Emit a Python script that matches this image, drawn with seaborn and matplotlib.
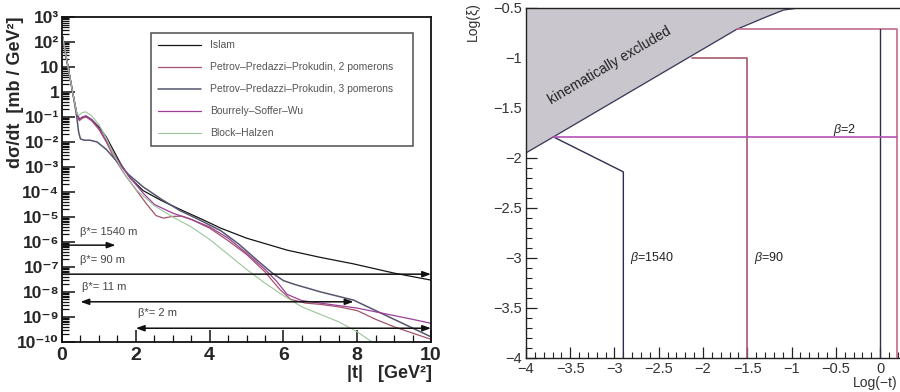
import numpy as np
import matplotlib
matplotlib.use("Agg")
import matplotlib.pyplot as plt
from matplotlib.ticker import FixedLocator, MultipleLocator, LogLocator, NullFormatter
import seaborn as sns

# ---- left panel: d(sigma)/dt model curves, log10 of mb/GeV^2 ----
islam_t = [0.02, 0.1, 0.2, 0.3, 0.4, 0.48, 0.55, 0.65, 0.8, 1.0, 1.2, 1.4, 1.6, 1.85,
           2.2, 2.7, 3.2, 3.8, 4.3, 5.0, 6.1, 7.0, 7.9, 9.0, 10.0]
islam_lg = [2.2, 1.5, 0.7, -0.1, -0.85, -1.1, -1.02, -0.98, -1.1, -1.4, -1.8, -2.35, -2.9, -3.45,
            -3.95, -4.35, -4.7, -5.1, -5.45, -5.85, -6.33, -6.62, -6.88, -7.25, -7.53]

ppp2_t = [0.02, 0.1, 0.2, 0.3, 0.4, 0.47, 0.55, 0.65, 0.8, 1.0, 1.2, 1.4, 1.7, 2.0, 2.3, 2.55,
          2.75, 3.0, 3.25, 3.5, 4.0, 4.5, 5.0, 5.5, 5.9, 6.2, 6.6, 7.0, 7.5, 8.0, 8.5, 9.0, 9.5, 10.0]
ppp2_lg = [2.2, 1.5, 0.7, -0.1, -0.85, -1.15, -1.05, -1.0, -1.15, -1.5, -2.0, -2.6, -3.3, -3.9, -4.5, -4.95,
           -5.05, -4.98, -4.97, -5.1, -5.45, -5.95, -6.5, -7.2, -7.9, -8.3, -8.45, -8.5, -8.6, -8.75, -9.1, -9.4, -9.65, -9.9]

ppp3_t = [0.02, 0.1, 0.2, 0.3, 0.4, 0.45, 0.5, 0.6, 0.75, 0.95, 1.2, 1.5, 1.8, 2.2, 2.7, 3.2, 3.7,
          4.3, 4.8, 5.3, 5.7, 6.0, 6.3, 7.0, 7.9, 8.5, 9.0, 9.5, 10.0]
ppp3_lg = [2.2, 1.5, 0.7, -0.1, -1.0, -1.6, -1.88, -1.93, -1.93, -2.0, -2.3, -2.8, -3.3, -3.8, -4.3, -4.75, -5.1,
           -5.55, -6.1, -6.75, -7.25, -7.55, -7.7, -8.0, -8.33, -8.75, -9.1, -9.45, -9.8]

bsw_t = [0.02, 0.1, 0.2, 0.3, 0.4, 0.46, 0.55, 0.65, 0.8, 1.0, 1.2, 1.45, 1.8, 2.2, 2.5, 3.0, 3.5,
         4.0, 4.5, 5.0, 5.5, 5.8, 6.1, 6.5, 7.0, 7.5, 8.0, 8.5, 9.0, 9.5, 10.0]
bsw_lg = [2.2, 1.5, 0.7, -0.1, -0.9, -1.1, -1.0, -0.95, -1.1, -1.45, -1.95, -2.6, -3.35, -4.05, -4.5, -4.85, -5.1,
          -5.4, -5.85, -6.45, -7.1, -7.55, -8.1, -8.35, -8.45, -8.55, -8.65, -8.8, -8.95, -9.1, -9.26]

bh_t = [0.02, 0.1, 0.2, 0.3, 0.4, 0.45, 0.55, 0.65, 0.8, 1.0, 1.2, 1.4, 1.7, 2.0, 2.5, 3.0, 3.5,
        4.0, 4.5, 5.0, 5.5, 6.0, 6.5, 7.0, 7.5, 8.0, 8.5]
bh_lg = [2.2, 1.5, 0.7, -0.1, -0.85, -0.95, -0.82, -0.8, -0.95, -1.3, -1.85, -2.5, -3.3, -3.9, -4.55, -5.0, -5.4,
         -5.9, -6.5, -7.1, -7.65, -8.15, -8.6, -8.9, -9.2, -9.6, -10.1]

model_names = ["Islam", "Petrov\u2013Predazzi\u2013Prokudin, 2 pomerons",
               "Petrov\u2013Predazzi\u2013Prokudin, 3 pomerons", "Bourrely\u2013Soffer\u2013Wu", "Block\u2013Halzen"]
model_t = [islam_t, ppp2_t, ppp3_t, bsw_t, bh_t]
model_lg = [islam_lg, ppp2_lg, ppp3_lg, bsw_lg, bh_lg]
model_colors = ["#151515", "#a45468", "#55566e", "#9c3f98", "#9cc49c"]
model_lw = [0.9, 0.9, 1.1, 0.9, 0.8]

# beta* acceptance arrows
beta_star_text = ["\u03b2*= 1540 m", "\u03b2*= 90 m", "\u03b2*= 11 m", "\u03b2*= 2 m"]
beta_star_tmin = [0.0, 0.0, 0.5, 2.0]
beta_star_tmax = [1.45, 10.0, 7.9, 10.0]
beta_star_level = [7.4e-7, 5.1e-8, 4.0e-9, 3.5e-10]
beta_star_text_level = [1.6e-6, 1.2e-7, 1.0e-8, 9.0e-10]
beta_star_style = ["-|>", "-|>", "<|-|>", "<|-|>"]

left_yticks = [1e-10, 1e-9, 1e-8, 1e-7, 1e-6, 1e-5, 1e-4, 1e-3, 1e-2, 1e-1, 1, 10, 1e2, 1e3]
left_ylabels = ["10\u207b\u00b9\u2070", "10\u207b\u2079", "10\u207b\u2078", "10\u207b\u2077",
                "10\u207b\u2076", "10\u207b\u2075", "10\u207b\u2074", "10\u207b\u00b3",
                "10\u207b\u00b2", "10\u207b\u00b9", "1", "10", "10\u00b2", "10\u00b3"]
left_xticks = [0, 2, 4, 6, 8, 10]

# ---- right panel: acceptance regions in log(-t), log(xi) ----
kin_x = [-4.0, -3.69, -1.62, -1.28, -1.09, -0.92]
kin_y = [-1.95, -1.79, -0.713, -0.587, -0.52, -0.5]

b1540_x = [-3.69, -2.90, -2.90]
b1540_y = [-1.79, -2.14, -4.0]
b90_x = [-2.12, -1.50, -1.50]
b90_y = [-1.0, -1.0, -4.0]
b11_x = [-1.62, 0.19, 0.19]
b11_y = [-0.713, -0.713, -4.0]
b0_x = [0.0, 0.0]
b0_y = [-0.713, -4.0]
b2_x = [-3.69, 0.19]
b2_y = [-1.787, -1.787]

right_xticks = [-4, -3.5, -3, -2.5, -2, -1.5, -1, -0.5, 0]
right_xlabels = ["\u22124", "\u22123.5", "\u22123", "\u22122.5", "\u22122", "\u22121.5", "\u22121", "\u22120.5", "0"]
right_yticks = [-4, -3.5, -3, -2.5, -2, -1.5, -1, -0.5]
right_ylabels = ["\u22124", "\u22123.5", "\u22123", "\u22122.5", "\u22122", "\u22121.5", "\u22121", "\u22120.5"]

sns.set_style("ticks")
plt.rcParams["font.family"] = ["Liberation Sans", "DejaVu Sans"]
plt.rcParams["mathtext.fontset"] = "custom"
plt.rcParams["mathtext.rm"] = "Liberation Sans"
plt.rcParams["mathtext.bf"] = "Liberation Sans:bold"
plt.rcParams["mathtext.it"] = "Liberation Sans:italic"

fig = plt.figure(figsize=(9, 3.92), dpi=100)
ax1 = fig.add_axes([0.0689, 0.128, 0.41, 0.8286])
ax2 = fig.add_axes([0.5844, 0.0875, 0.4156, 0.8921])

# left panel
ax1.set_yscale("log")
for name, t, lg, c, lw in zip(model_names, model_t, model_lg, model_colors, model_lw):
    sns.lineplot(x=t, y=10 ** np.array(lg), ax=ax1, color=c, lw=lw, label=name,
                 sort=False, estimator=None)

for txt, t0, t1, lev, tlev, st in zip(beta_star_text, beta_star_tmin, beta_star_tmax,
                                      beta_star_level, beta_star_text_level, beta_star_style):
    ax1.annotate("", xy=(t1, lev), xytext=(t0, lev),
                 arrowprops=dict(arrowstyle=st + ",head_length=0.5,head_width=0.18",
                                 color="#111111", lw=1.1, shrinkA=0, shrinkB=0))
    ax1.text(t0 + (0.5 if t0 == 0 else 0.05), tlev, txt, fontsize=8, color="#444444",
             ha="left", va="bottom")

ax1.set_xlim(0, 10)
ax1.set_ylim(1e-10, 1e3)
ax1.xaxis.set_major_locator(FixedLocator(left_xticks))
ax1.xaxis.set_minor_locator(MultipleLocator(0.5))
ax1.set_xticklabels([str(v) for v in left_xticks], fontsize=14, fontweight="bold")
ax1.yaxis.set_major_locator(FixedLocator(left_yticks))
ax1.yaxis.set_minor_locator(LogLocator(base=10, subs=np.arange(2, 10), numticks=30))
ax1.yaxis.set_minor_formatter(NullFormatter())
ax1.set_yticklabels(left_ylabels, fontsize=12.5, fontweight="bold")
ax1.tick_params(axis="y", which="major", pad=2)
ax1.tick_params(axis="both", which="major", direction="in", length=9, width=1.1, color="#111111")
ax1.tick_params(axis="both", which="minor", direction="in", length=5, width=0.9, color="#111111")
for s in ax1.spines.values():
    s.set_linewidth(1.3)
    s.set_color("#111111")

leg = ax1.legend(loc="upper left", bbox_to_anchor=(0.24, 0.952, 0.712, 0.0), mode="expand",
                 fontsize=7.5, frameon=True, fancybox=False, borderaxespad=0, borderpad=0.75,
                 handlelength=4.1, handletextpad=0.9, labelspacing=1.15, labelcolor="#555555")
leg.get_frame().set_edgecolor("#222222")
leg.get_frame().set_linewidth(1.1)

fig.text(16 / 900, 1 - 92 / 392, "d\u03c3/dt  [mb / GeV\u00b2]", rotation=90, ha="center", va="center",
         fontsize=13, fontweight="bold")
fig.text(432 / 900, 1 - 373 / 392, "|t|   [GeV\u00b2]", ha="right", va="center", fontsize=13, fontweight="bold")

# right panel
ax2.fill_between(kin_x, kin_y, -0.5, color="#c9c7cd", lw=0)
sns.lineplot(x=kin_x, y=kin_y, ax=ax2, color="#3a3a5a", lw=0.9, sort=False, estimator=None)
sns.lineplot(x=b1540_x, y=b1540_y, ax=ax2, color="#2c2c52", lw=1.0, sort=False, estimator=None)
sns.lineplot(x=b90_x, y=b90_y, ax=ax2, color="#a35a6c", lw=1.2, sort=False, estimator=None)
sns.lineplot(x=b11_x, y=b11_y, ax=ax2, color="#c46a90", lw=1.2, sort=False, estimator=None)
sns.lineplot(x=b0_x, y=b0_y, ax=ax2, color="#2e2e4e", lw=1.0, sort=False, estimator=None)
sns.lineplot(x=b2_x, y=b2_y, ax=ax2, color="#b452b8", lw=1.2, sort=False, estimator=None)

ax2.text(-2.83, -3.0, r"$\it{\beta}$=1540", fontsize=9, color="#222222", ha="left", va="center")
ax2.text(-1.42, -3.0, r"$\it{\beta}$=90", fontsize=9, color="#222222", ha="left", va="center")
ax2.text(-0.53, -1.72, r"$\it{\beta}$=2", fontsize=9, color="#222222", ha="left", va="center")
ax2.text(-3.06, -1.08, "kinematically excluded", fontsize=10, color="#222222", rotation=30.5,
         ha="center", va="center")

ax2.set_xlim(-4, 0.225)
ax2.set_ylim(-4, -0.5)
ax2.xaxis.set_major_locator(FixedLocator(right_xticks))
ax2.xaxis.set_minor_locator(MultipleLocator(0.1))
ax2.set_xticklabels(right_xlabels, fontsize=10.5, color="#333333")
ax2.yaxis.set_major_locator(FixedLocator(right_yticks))
ax2.yaxis.set_minor_locator(MultipleLocator(0.1))
ax2.set_yticklabels(right_ylabels, fontsize=10.5, color="#333333")
ax2.tick_params(axis="both", which="major", direction="in", length=8, width=0.9, color="#222222", pad=3)
ax2.tick_params(axis="both", which="minor", direction="in", length=4, width=0.8, color="#222222")
ax2.spines["right"].set_visible(False)
for s in ["left", "bottom", "top"]:
    ax2.spines[s].set_linewidth(1.0)
    ax2.spines[s].set_color("#222222")

fig.text(473 / 900, 1 - 22 / 392, "Log(\u03be)", rotation=90, ha="center", va="center", fontsize=10, color="#333333")
fig.text(898 / 900, 1 - 383 / 392, "Log(\u2212t)", ha="right", va="center", fontsize=10, color="#333333")

fig.savefig("out.png", dpi=100)
